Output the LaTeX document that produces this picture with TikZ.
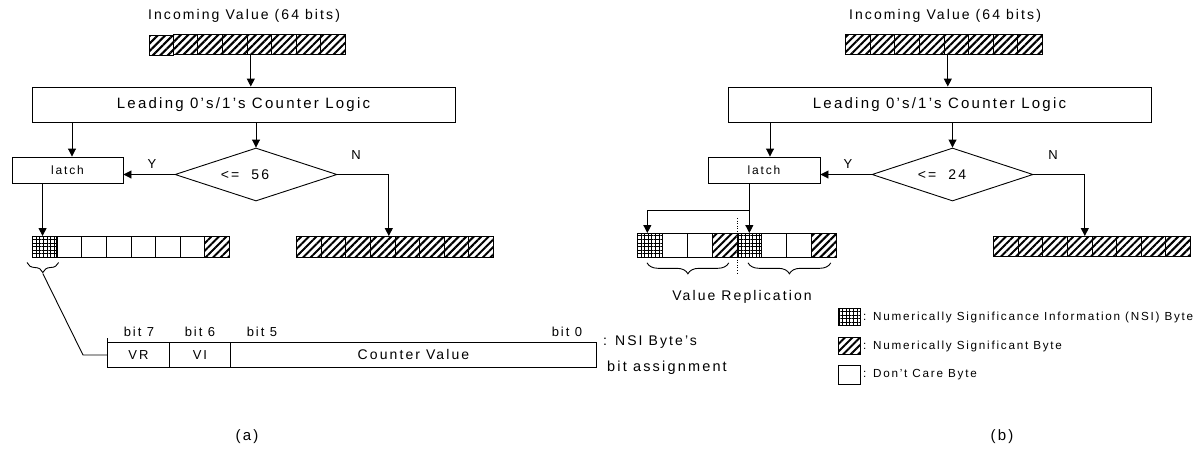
\documentclass[tikz,border=0pt]{standalone}
\usepackage{fontspec}
\setmainfont[LetterSpace=15]{Liberation Sans}
\usetikzlibrary{arrows.meta,patterns.meta,decorations.pathreplacing,shapes.geometric,calc}
\newcommand\fsz[1]{\fontsize{#1}{#1}\selectfont}

\tikzset{
  ln/.style={line width=0.9pt},
  arr/.style={ln, -{Triangle[length=8pt,width=8pt]}},
  box/.style={draw, ln, rectangle, inner sep=0pt},
  cell/.style={draw, line width=0.8pt, rectangle, inner sep=0pt, anchor=north west},
  hatch/.style={pattern={Lines[angle=45,distance=5.3pt,line width=2pt]}},
  gridp/.style={pattern={Hatch[angle=0,distance=3.6pt,line width=0.5pt]}},
  ctype/.code={\ifcase#1\or\pgfkeysalso{/tikz/hatch}\or\pgfkeysalso{/tikz/gridp}\fi},
  dia/.style={diamond, draw, ln, inner sep=0pt, aspect=3},
  brace/.style={ln, decorate, decoration={brace, mirror, amplitude=#1}},
  lbl/.style={inner sep=0pt},
}
% one row of byte cells: name, left, top, cell width, cell height, types (0 blank, 1 hatched, 2 grid)
\newcommand\byterow[6]{%
  \foreach \t [count=\i] in {#6}
    \node[cell, minimum width=#4, minimum height=#5, ctype=\t] (#1\i) at ({#2+(\i-1)*#4},#3) {};}

\begin{document}
\begin{tikzpicture}[x=1pt,y=-1pt]
\useasboundingbox (0,0) rectangle (1204,448);

% ---------------- (a) ----------------
\node[lbl, font=\fsz{14}] (titleA) at (244,16) {Incoming Value (64 bits)};
\byterow{inA}{148}{34}{24.625}{20}{1,1,1,1,1,1,1,1}
\node[box, minimum width=423pt, minimum height=35pt, font=\fsz{15}] (cntA) at (243.5,104.5) {Leading 0's/1's Counter Logic};
\node[box, minimum width=111pt, minimum height=26pt, font=\fsz{12}] (latchA) at (67.5,170) {latch};
\node[dia, minimum width=162pt, minimum height=53pt] (dA) at (256,174.5) {};
\node[lbl, font=\fsz{14}] (cmpA) at (245,175) {<=\ \ 56};
\node[lbl, font=\fsz{13}] (yA) at (152,164) {Y};
\node[lbl, font=\fsz{13}] (nA) at (356,155) {N};
\byterow{nsiA}{32}{236}{24.625}{21}{2,0,0,0,0,0,0,1}
\byterow{outA}{296}{236}{24.625}{21}{1,1,1,1,1,1,1,1}

\draw[arr] ([xshift=3.5pt]inA4.south east) -- ([xshift=3.5pt]inA4.south east |- cntA.north);
\draw[arr] ([xshift=4.5pt]latchA.north |- cntA.south) -- ([xshift=4.5pt]latchA.north);
\draw[arr] (dA.north |- cntA.south) -- (dA.north);
\draw[arr] (dA.west) -- (dA.west -| latchA.east);
\draw[arr] (dA.east) -| ([xshift=-6.5pt]outA4.north east);
\draw[arr] ([xshift=-2pt]nsiA1.north |- latchA.south) -- ([xshift=-2pt]nsiA1.north);

% brace under the NSI byte and its lead to the bit layout
\coordinate (bA1) at ([xshift=-5pt,yshift=-5pt]nsiA1.south west);
\coordinate (bA2) at ([xshift=1.5pt,yshift=-5pt]nsiA1.south east);
\draw[brace=10pt] (bA1) -- (bA2);
\coordinate (tipA) at ($(bA1)!0.5!(bA2)+(0,11)$);

\node[box, anchor=north west, minimum width=62pt, minimum height=25pt, font=\fsz{13}] (vrA) at (107,342) {VR};
\node[box, anchor=north west, minimum width=61pt, minimum height=25pt, font=\fsz{13}] (viA) at (169,342) {VI};
\node[box, anchor=north west, minimum width=366pt, minimum height=25pt, font=\fsz{14}] (cvA) at (230,342) {Counter Value};
\draw[ln] (vrA.north west) -- ++(0,-4);
\draw[ln] (tipA) -- ([xshift=-24pt]vrA.west) -- (vrA.west);

\node[lbl, font=\fsz{13}] (b7) at (139,332) {bit 7};
\node[lbl, font=\fsz{13}] (b6) at (200,332) {bit 6};
\node[lbl, font=\fsz{13}] (b5) at (262,332) {bit 5};
\node[lbl, font=\fsz{13}] (b0) at (567,332) {bit 0};
\node[lbl, anchor=west, font=\fsz{14}] (nsiLbl) at (603,342) {: NSI Byte's};
\node[lbl, anchor=west, font=\fsz{14.5}] (asgLbl) at (607,368) {bit assignment};

\node[lbl, font=\fsz{15}] (capA) at (247,437) {(a)};

% ---------------- (b) ----------------
\node[lbl, font=\fsz{14}] (titleB) at (945,16) {Incoming Value (64 bits)};
\byterow{inB}{845}{34}{24.625}{20}{1,1,1,1,1,1,1,1}
\node[box, minimum width=423pt, minimum height=35pt, font=\fsz{15}] (cntB) at (939.5,104.5) {Leading 0's/1's Counter Logic};
\node[box, minimum width=112pt, minimum height=26pt, font=\fsz{12}] (latchB) at (764,170) {latch};
\node[dia, minimum width=161pt, minimum height=53pt] (dB) at (952.5,174.5) {};
\node[lbl, font=\fsz{14}] (cmpB) at (942,175) {<=\ \ 24};
\node[lbl, font=\fsz{13}] (yB) at (848,164) {Y};
\node[lbl, font=\fsz{13}] (nB) at (1053,155) {N};
\byterow{repB}{637}{233}{24.875}{24}{2,0,0,1,2,0,0,1}
\byterow{outB}{993}{236}{24.625}{20}{1,1,1,1,1,1,1,1}

\draw[arr] ([xshift=3.5pt]inB4.south east) -- ([xshift=3.5pt]inB4.south east |- cntB.north);
\draw[arr] ([xshift=6pt]latchB.north |- cntB.south) -- ([xshift=6pt]latchB.north);
\draw[arr] (dB.north |- cntB.south) -- (dB.north);
\draw[arr] (dB.west) -- (dB.west -| latchB.east);
\draw[arr] (dB.east) -| ([xshift=-7.5pt]outB4.north east);
\draw[arr] (repB5.north |- latchB.south) -- (repB5.north);
\coordinate (splitB) at ($(repB5.north |- latchB.south)+(0,27)$);
\draw[arr] (splitB) -| ([xshift=-2.5pt]repB1.north);
\draw[line width=0.6pt, dotted] ([yshift=15pt]repB4.north east) -- ([yshift=-15pt]repB4.south east);

\draw[brace=11pt] ([xshift=10pt,yshift=-5pt]repB1.south west) -- ([xshift=-8.5pt,yshift=-5pt]repB4.south east);
\draw[brace=11pt] ([xshift=11.5pt,yshift=-5pt]repB5.south west) -- ([xshift=-6pt,yshift=-5pt]repB8.south east);
\node[lbl, font=\fsz{14}] (repLbl) at (742,297) {Value Replication};

% legend
\node[cell, anchor=center, gridp, minimum width=22pt, minimum height=17pt] (legNSI) at (849,317) {};
\node[cell, anchor=center, hatch, minimum width=22pt, minimum height=17pt] (legNS) at (849,346) {};
\node[cell, anchor=center, minimum width=22pt, minimum height=19pt] (legDC) at (849,375) {};
\node[lbl, anchor=west, font=\fsz{11.7}] (legNSIt) at (863,317) {: Numerically Significance Information (NSI) Byte};
\node[lbl, anchor=west, font=\fsz{11.7}] (legNSt) at (863,346) {: Numerically Significant Byte};
\node[lbl, anchor=west, font=\fsz{11.7}] (legDCt) at (863,375) {: Don't Care Byte};

\node[lbl, font=\fsz{15}] (capB) at (1002,437) {(b)};
\end{tikzpicture}
\end{document}
